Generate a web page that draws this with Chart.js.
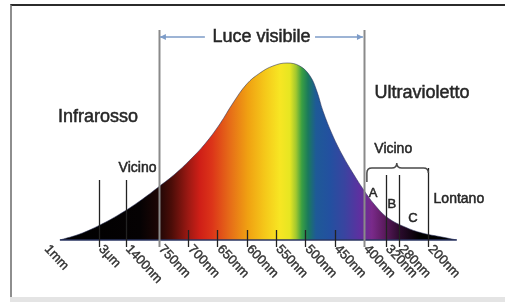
<!DOCTYPE html>
<html>
<head>
<meta charset="utf-8">
<script src="https://cdn.jsdelivr.net/npm/chart.js@4/dist/chart.umd.min.js"></script>
<style>
  html, body { margin: 0; padding: 0; background: #fff; }
  body { width: 505px; height: 302px; position: relative; overflow: hidden; }
  .frame {
    position: absolute; left: 10px; top: 4px; right: 0; bottom: 5px;
    border-top: 2px solid #2b2b2b; border-left: 2px solid #8e8e8e; background: #fff;
  }
  .strip { position: absolute; left: 10px; right: 0; bottom: 0; height: 5px; background: #e4e4e4; }
  canvas { position: absolute; left: 0; top: 0; }
</style>
</head>
<body>
<div class="frame"></div>
<div class="strip"></div>
<canvas id="spectrum" width="505" height="302"></canvas>
<script>
// Axis: one unit = one 50nm step of the visible band (750nm = 0, 400nm = 7)
const tickLabels = ["1mm", "3μm", "1400nm", "750nm", "700nm", "650nm", "600nm",
  "550nm", "500nm", "450nm", "400nm", "320nm", "280nm", "200nm"];
const tickPos = [-3.9, -2.05, -1.13, 0, 1, 2, 3, 4, 5, 6, 7, 7.75, 8.2, 9.2];

// Curve (relative intensity)
const curveX = [-3.38, -2.7, -2.01, -1.33, -0.65, 0.03, 0.55, 1.06, 1.57, 2.08, 2.53,
  3.0, 3.45, 3.89, 4.37, 4.81, 5.16, 5.39, 5.6, 5.94, 6.28, 6.62, 6.97, 7.37, 7.82,
  8.4, 8.98, 9.66, 10.17];
const curveH = [0, 6, 15, 26, 39, 54, 66, 80, 96, 116, 137,
  156, 167, 174, 177, 174, 164, 149, 129, 104, 84, 67, 51, 35, 22,
  13, 7, 3, 0];

// Colour stops of the spectrum fill (axis unit, colour)
const spectrumStops = [
  [-3.4, "#000000"], [-0.65, "#050203"], [-0.03, "#1c0605"], [0.44, "#4c0d08"],
  [1.0, "#9c1913"], [1.4, "#cf1f17"], [1.81, "#dc3419"], [2.42, "#e66c18"],
  [3.04, "#f0a112"], [3.62, "#f5c81a"], [4.13, "#f7e623"], [4.47, "#e6e622"],
  [4.68, "#a2c82f"], [4.88, "#3a9f42"], [5.09, "#1a7a5c"], [5.36, "#1e5a97"],
  [5.84, "#2350a0"], [6.35, "#3a44a0"], [6.86, "#5e30a0"], [7.27, "#7a2a8a"],
  [7.72, "#5a1a5c"], [8.23, "#2a0a2c"], [8.91, "#000000"], [10.2, "#000000"]
];

// Text notes on the drawing
const notes = [
  { text: "Luce visibile", x: 3.5, h: 203, size: 18 },
  { text: "Infrarosso", x: -2.08, h: 123, size: 18 },
  { text: "Ultravioletto", x: 8.98, h: 147, size: 18 },
  { text: "Vicino", x: -0.73, h: 72, size: 14 },
  { text: "Vicino", x: 8.0, h: 91, size: 14 },
  { text: "A", x: 7.31, h: 47, size: 13 },
  { text: "B", x: 7.95, h: 36, size: 13 },
  { text: "C", x: 8.67, h: 22, size: 13 },
  { text: "Lontano", x: 10.24, h: 41, size: 14 }
];

const FONT = "'Liberation Sans', Arial, sans-serif";

// How tall each tick line is (top, in intensity units)
const tickTop = (label) => {
  if (label === "1mm") return null;
  if (label === "750nm" || label === "400nm") return 210;
  if (label === "3μm" || label === "1400nm") return 60;
  if (label === "320nm" || label === "280nm") return 65;
  if (label === "200nm") return 72;
  return 10;
};

const spectrumFill = (context) => {
  const chart = context.chart;
  const area = chart.chartArea;
  if (!area) return "#000";
  const xs = chart.scales.x;
  const g = chart.ctx.createLinearGradient(area.left, 0, area.right, 0);
  spectrumStops.forEach(([pos, col]) => {
    const t = (xs.getPixelForValue(pos) - area.left) / area.width;
    g.addColorStop(Math.min(1, Math.max(0, t)), col);
  });
  return g;
};

// slightly heavier text, like the printed original
const heavyText = (ctx, text, x, y, w) => {
  ctx.lineWidth = w;
  ctx.strokeText(text, x, y);
  ctx.fillText(text, x, y);
};

const decorations = {
  id: "decorations",
  afterDatasetsDraw(chart) {
    const ctx = chart.ctx;
    const xs = chart.scales.x;
    const ys = chart.scales.y;
    const px = (v) => xs.getPixelForValue(v);
    const py = (v) => ys.getPixelForValue(v);
    ctx.save();

    // baseline
    ctx.strokeStyle = "#2a3462";
    ctx.lineWidth = 1.6;
    ctx.beginPath();
    ctx.moveTo(px(curveX[0]), py(0));
    ctx.lineTo(px(curveX[curveX.length - 1]), py(0));
    ctx.stroke();

    // tick lines
    tickLabels.forEach((label, i) => {
      const top = tickTop(label);
      if (top === null) return;
      const x = Math.round(px(tickPos[i])) + 0.5;
      const tall = label === "750nm" || label === "400nm";
      ctx.strokeStyle = tall ? "#8a8a8a" : "#222";
      ctx.lineWidth = tall ? 2 : 1.3;
      ctx.beginPath();
      ctx.moveTo(x, py(top));
      ctx.lineTo(x, py(-7));
      ctx.stroke();
    });

    // tick labels, rotated down-right
    ctx.fillStyle = "#333";
    ctx.strokeStyle = "#333";
    ctx.font = "13px " + FONT;
    ctx.textAlign = "left";
    ctx.textBaseline = "middle";
    tickLabels.forEach((label, i) => {
      ctx.save();
      ctx.translate(px(tickPos[i]) + 2, py(0) + 7);
      ctx.rotate((47 * Math.PI) / 180);
      heavyText(ctx, label, 0, 0, 0.4);
      ctx.restore();
    });

    // "Luce visibile" arrows
    const ay = py(203);
    const a0 = px(0) + 1, a1 = px(1.57), b0 = px(5.33), b1 = px(7) - 1;
    ctx.strokeStyle = "#7d9cc8";
    ctx.fillStyle = "#7d9cc8";
    ctx.lineWidth = 1.6;
    ctx.beginPath();
    ctx.moveTo(a0, ay); ctx.lineTo(a1, ay);
    ctx.moveTo(b0, ay); ctx.lineTo(b1, ay);
    ctx.stroke();
    ctx.beginPath();
    ctx.moveTo(a0, ay); ctx.lineTo(a0 + 6, ay - 3); ctx.lineTo(a0 + 6, ay + 3); ctx.closePath();
    ctx.moveTo(b1, ay); ctx.lineTo(b1 - 6, ay - 3); ctx.lineTo(b1 - 6, ay + 3); ctx.closePath();
    ctx.fill();

    // curly bracket over the near UV band
    const bl = px(7.1), bc = px(8.12), br = px(9.2);
    const bt = py(72);
    ctx.strokeStyle = "#4a4a4a";
    ctx.lineWidth = 1.5;
    ctx.beginPath();
    ctx.moveTo(bl, bt + 14);
    ctx.lineTo(bl, bt + 5);
    ctx.quadraticCurveTo(bl, bt, bl + 5, bt);
    ctx.lineTo(bc - 5, bt);
    ctx.quadraticCurveTo(bc, bt, bc, bt - 5);
    ctx.quadraticCurveTo(bc, bt, bc + 5, bt);
    ctx.lineTo(br - 5, bt);
    ctx.quadraticCurveTo(br, bt, br, bt + 5);
    ctx.stroke();

    // notes
    ctx.fillStyle = "#262626";
    ctx.strokeStyle = "#262626";
    ctx.textAlign = "center";
    ctx.textBaseline = "middle";
    notes.forEach((n) => {
      ctx.font = n.size + "px " + FONT;
      heavyText(ctx, n.text, px(n.x), py(n.h), 0.5);
    });

    ctx.restore();
  }
};

new Chart(document.getElementById("spectrum"), {
  type: "line",
  data: {
    datasets: [{
      data: curveX.map((x, i) => ({ x, y: curveH[i] })),
      fill: "origin",
      backgroundColor: spectrumFill,
      borderColor: "rgba(40, 48, 90, 0.55)",
      borderWidth: 1,
      pointRadius: 0,
      tension: 0.4
    }]
  },
  options: {
    responsive: false,
    animation: false,
    layout: { padding: { left: 30, right: 35, top: 0, bottom: 62 } },
    plugins: { legend: { display: false }, tooltip: { enabled: false } },
    scales: {
      x: { type: "linear", display: false, min: -4.4, max: 10.62 },
      y: { display: false, min: 0, max: 240 }
    }
  },
  plugins: [decorations]
});
</script>
</body>
</html>
